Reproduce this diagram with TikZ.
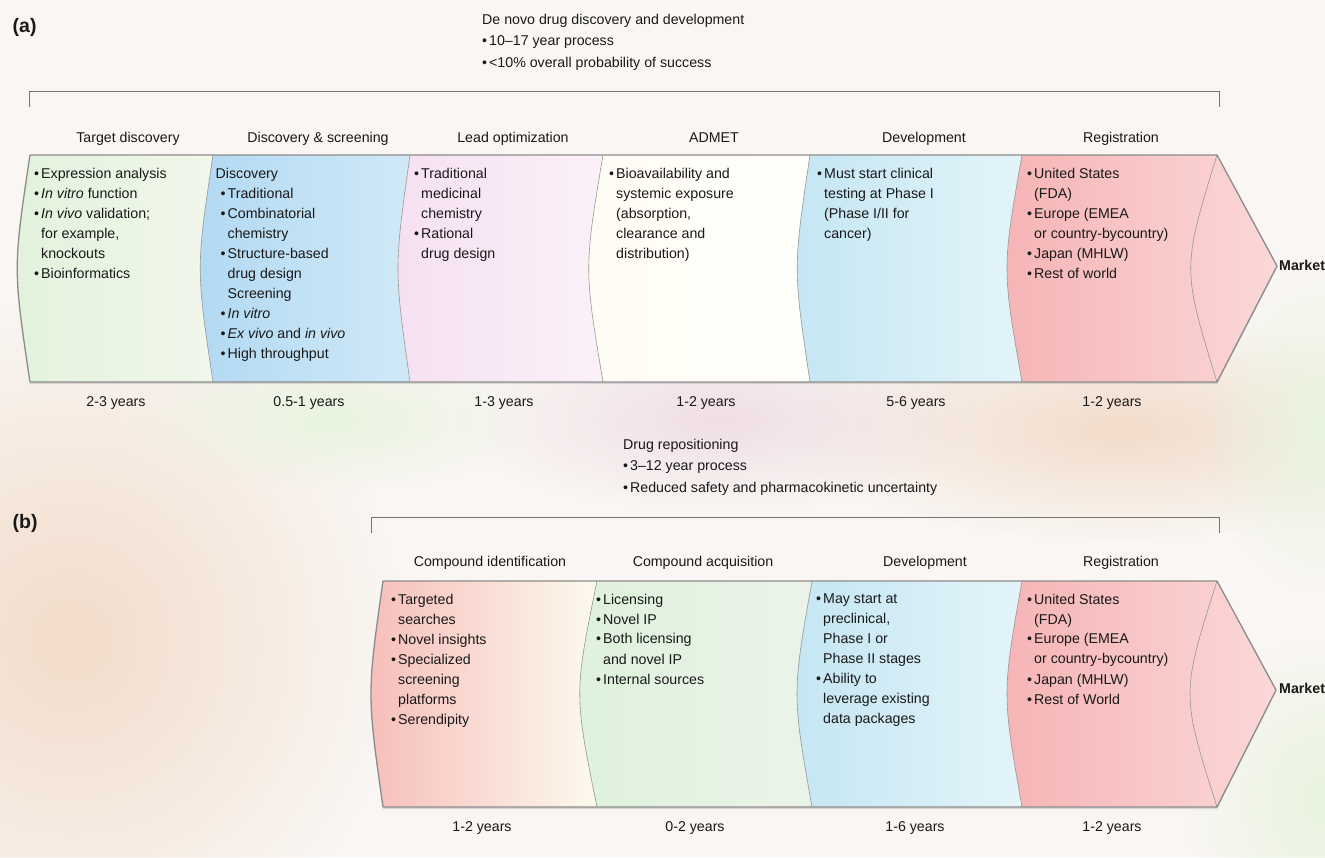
\documentclass[tikz,border=0pt]{standalone}
\usepackage{fontspec}
\setmainfont{Liberation Sans}
\usepackage{tikz}
\usetikzlibrary{fadings, shadows}

\definecolor{bgcol}{RGB}{249,246,243}
\definecolor{blobpeach}{RGB}{243,220,202}
\definecolor{blobgreen}{RGB}{232,244,222}
\definecolor{blobpink}{RGB}{240,222,228}
\definecolor{inkcol}{RGB}{25,25,25}
\definecolor{bandline}{RGB}{140,140,140}
\definecolor{splitline}{RGB}{150,150,150}
\definecolor{brkcol}{RGB}{115,115,115}
\definecolor{tdL}{RGB}{226,242,220}
\definecolor{tdR}{RGB}{241,247,235}
\definecolor{dsL}{RGB}{178,217,243}
\definecolor{dsR}{RGB}{208,233,247}
\definecolor{loL}{RGB}{245,224,242}
\definecolor{loR}{RGB}{251,241,248}
\definecolor{adL}{RGB}{255,252,244}
\definecolor{adR}{RGB}{255,254,250}
\definecolor{dvL}{RGB}{196,230,243}
\definecolor{dvR}{RGB}{227,244,249}
\definecolor{rgL}{RGB}{246,180,181}
\definecolor{rgR}{RGB}{251,216,216}
\definecolor{ciL}{RGB}{247,190,186}
\definecolor{ciM}{RGB}{252,238,205}
\definecolor{ciR}{RGB}{252,250,238}
\definecolor{caL}{RGB}{222,242,220}
\definecolor{caR}{RGB}{235,243,233}

\newcommand\blt{\makebox[7pt][l]{\textbullet}}
\newcommand\hng{\hspace*{7pt}}

\tikzfading[name=softblob, inner color=transparent!0, outer color=transparent!100]

\begin{document}
\begin{tikzpicture}[x=1pt,y=-1pt,body/.style={anchor=north west,align=left,inner sep=0pt,text=inkcol,font=\fontsize{14.2}{20}\selectfont,execute at begin node=\strut},title/.style={anchor=north west,align=left,inner sep=0pt,text=inkcol,font=\fontsize{14.2}{21.5}\selectfont,execute at begin node=\strut},stage/.style={anchor=base,inner sep=0pt,text=inkcol,font=\fontsize{14.2}{17}\selectfont},panel/.style={anchor=base west,inner sep=0pt,text=inkcol,font=\fontsize{19.5}{22}\selectfont\bfseries},market/.style={anchor=west,inner sep=0pt,text=inkcol,font=\fontsize{14.2}{17}\selectfont\bfseries},band/.style={draw=bandline,line width=1.3pt,line join=round},split/.style={draw=splitline,line width=0.6pt},bracket/.style={draw=brkcol,line width=1pt},underlay/.style={fill=white,drop shadow={opacity=0.25,shadow xshift=0pt,shadow yshift=-2pt}}]
\useasboundingbox (0,0) rectangle (1325,857);
% background
\fill[bgcol] (0,0) rectangle (1325,857);
\fill[blobpeach,path fading=softblob] (70,640) ellipse (330 and 340);
\fill[blobpeach,path fading=softblob] (1120,430) ellipse (330 and 110);
\fill[blobpink,path fading=softblob] (720,420) ellipse (260 and 90);
\fill[blobgreen,path fading=softblob] (1325,430) ellipse (120 and 160);
\fill[blobgreen,path fading=softblob] (1325,800) ellipse (140 and 160);
\fill[blobgreen,path fading=softblob] (330,420) ellipse (200 and 70);

% (a) de novo pipeline
\node[panel] (lblA) at (12.5,32) {(a)};
\node[title] (denovo) at (482,13.9) {De novo drug discovery and development\\\blt 10–17 year process\\\blt <10\% overall probability of success};
\draw[bracket] (29,107) -- (29,91) -- (1219,91) -- (1219,107);
\node[stage] (tdHead) at (128,142) {Target discovery};
\node[stage] (dsHead) at (318,142) {Discovery \& screening};
\node[stage] (loHead) at (513,142) {Lead optimization};
\node[stage] (adHead) at (714,142) {ADMET};
\node[stage] (dvHead) at (924,142) {Development};
\node[stage] (rgHead) at (1121,142) {Registration};
\path[underlay] (30,155) -- (1217,155) -- (1277,266) -- (1217,382) -- (30,382) .. controls (13,268.5) .. (30,155) -- cycle;
\shade[left color=tdL,right color=tdR] (30,155) -- (213,155) .. controls (196,268.5) .. (213,382) -- (30,382) .. controls (13,268.5) .. (30,155) -- cycle;
\shade[left color=dsL,right color=dsR] (213,155) -- (410,155) .. controls (394,268.5) .. (410,382) -- (213,382) .. controls (196,268.5) .. (213,155) -- cycle;
\shade[left color=loL,right color=loR] (410,155) -- (603,155) .. controls (584,268.5) .. (603,382) -- (410,382) .. controls (394,268.5) .. (410,155) -- cycle;
\shade[left color=adL,right color=adR] (603,155) -- (810,155) .. controls (793,268.5) .. (810,382) -- (603,382) .. controls (584,268.5) .. (603,155) -- cycle;
\shade[left color=dvL,right color=dvR] (810,155) -- (1022,155) .. controls (1002,268.5) .. (1022,382) -- (810,382) .. controls (793,268.5) .. (810,155) -- cycle;
\shade[left color=rgL,right color=rgR] (1022,155) -- (1217,155) -- (1277,266) -- (1217,382) -- (1022,382) .. controls (1002,268.5) .. (1022,155) -- cycle;
\draw[split] (213,155) .. controls (196,268.5) .. (213,382);
\draw[split] (410,155) .. controls (394,268.5) .. (410,382);
\draw[split] (603,155) .. controls (584,268.5) .. (603,382);
\draw[split] (810,155) .. controls (793,268.5) .. (810,382);
\draw[split] (1022,155) .. controls (1002,268.5) .. (1022,382);
\draw[split] (1217,155) .. controls (1182,268.5) .. (1217,382);
\draw[band] (30,155) -- (1217,155) -- (1277,266) -- (1217,382) -- (30,382) .. controls (13,268.5) .. (30,155) -- cycle;
\node[body] (tdText) at (34,168.5) {\blt Expression analysis\\\blt\textit{In vitro} function\\\blt\textit{In vivo} validation;\\\hng for example,\\\hng knockouts\\\blt Bioinformatics};
\node[body] (dsText) at (215.5,168.5) {Discovery\\\hspace*{5pt}\blt Traditional\\\hspace*{5pt}\blt Combinatorial\\\hspace*{5pt}\hng chemistry\\\hspace*{5pt}\blt Structure-based\\\hspace*{5pt}\hng drug design\\\hspace*{5pt}\hng Screening\\\hspace*{5pt}\blt\textit{In vitro}\\\hspace*{5pt}\blt\textit{Ex vivo} and \textit{in vivo}\\\hspace*{5pt}\blt High throughput};
\node[body] (loText) at (414,168.5) {\blt Traditional\\\hng medicinal\\\hng chemistry\\\blt Rational\\\hng drug design};
\node[body] (adText) at (609,168.5) {\blt Bioavailability and\\\hng systemic exposure\\\hng (absorption,\\\hng clearance and\\\hng distribution)};
\node[body] (dvText) at (817,168.5) {\blt Must start clinical\\\hng testing at Phase I\\\hng (Phase I/II for\\\hng cancer)};
\node[body] (rgText) at (1027,168.5) {\blt United States\\\hng (FDA)\\\blt Europe (EMEA\\\hng or country-bycountry)\\\blt Japan (MHLW)\\\blt Rest of world};
\node[market] (mktA) at (1279,265) {Market};
\node[stage] (tdYrs) at (116,406) {2-3 years};
\node[stage] (dsYrs) at (309,406) {0.5-1 years};
\node[stage] (loYrs) at (504,406) {1-3 years};
\node[stage] (adYrs) at (706,406) {1-2 years};
\node[stage] (dvYrs) at (916,406) {5-6 years};
\node[stage] (rgYrs) at (1112,406) {1-2 years};

% (b) repositioning pipeline
\node[panel] (lblB) at (12.5,528) {(b)};
\node[title] (repos) at (623,439) {Drug repositioning\\\blt 3–12 year process\\\blt Reduced safety and pharmacokinetic uncertainty};
\draw[bracket] (371,533) -- (371,517) -- (1219,517) -- (1219,533);
\node[stage] (ciHead) at (490,566.5) {Compound identification};
\node[stage] (caHead) at (703,566.5) {Compound acquisition};
\node[stage] (dbHead) at (925,566.5) {Development};
\node[stage] (rbHead) at (1121,566.5) {Registration};
\path[underlay] (383,581) -- (1217,581) -- (1276,690) -- (1217,807) -- (383,807) .. controls (367,694) .. (383,581) -- cycle;
\shade[left color=ciL,middle color=ciM,right color=ciR] (383,581) -- (597,581) .. controls (574,694) .. (597,807) -- (383,807) .. controls (367,694) .. (383,581) -- cycle;
\shade[left color=caL,right color=caR] (597,581) -- (812,581) .. controls (792,694) .. (812,807) -- (597,807) .. controls (574,694) .. (597,581) -- cycle;
\shade[left color=dvL,right color=dvR] (812,581) -- (1022,581) .. controls (1002,694) .. (1022,807) -- (812,807) .. controls (792,694) .. (812,581) -- cycle;
\shade[left color=rgL,right color=rgR] (1022,581) -- (1217,581) -- (1276,690) -- (1217,807) -- (1022,807) .. controls (1002,694) .. (1022,581) -- cycle;
\draw[split] (597,581) .. controls (574,694) .. (597,807);
\draw[split] (812,581) .. controls (792,694) .. (812,807);
\draw[split] (1022,581) .. controls (1002,694) .. (1022,807);
\draw[split] (1217,581) .. controls (1181,694) .. (1217,807);
\draw[band] (383,581) -- (1217,581) -- (1276,690) -- (1217,807) -- (383,807) .. controls (367,694) .. (383,581) -- cycle;
\node[body] (ciText) at (391,593.5) {\blt Targeted\\\hng searches\\\blt Novel insights\\\blt Specialized\\\hng screening\\\hng platforms\\\blt Serendipity};
\node[body] (caText) at (596,593.5) {\blt Licensing\\\blt Novel IP\\\blt Both licensing\\\hng and novel IP\\\blt Internal sources};
\node[body] (dbText) at (816,593.5) {\blt May start at\\\hng preclinical,\\\hng Phase I or\\\hng Phase II stages\\\blt Ability to\\\hng leverage existing\\\hng data packages};
\node[body] (rbText) at (1027,593.5) {\blt United States\\\hng (FDA)\\\blt Europe (EMEA\\\hng or country-bycountry)\\\blt Japan (MHLW)\\\blt Rest of World};
\node[market] (mktB) at (1279,688) {Market};
\node[stage] (ciYrs) at (482,831.5) {1-2 years};
\node[stage] (caYrs) at (695,831.5) {0-2 years};
\node[stage] (dbYrs) at (915,831.5) {1-6 years};
\node[stage] (rbYrs) at (1112,831.5) {1-2 years};
\end{tikzpicture}
\end{document}
